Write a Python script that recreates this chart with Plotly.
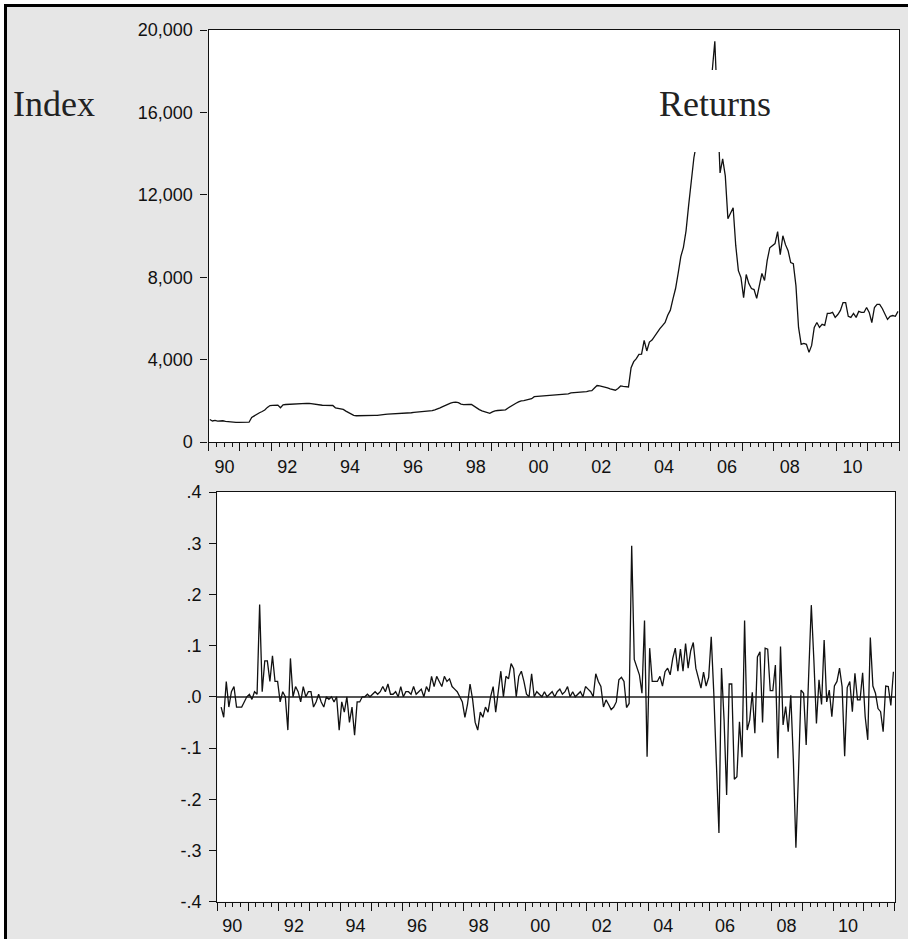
import pandas as pd
import plotly.graph_objects as go

W, H = 908, 939

# Monthly observations, 1990M1 .. 2011M12
months = pd.period_range("1990-01", "2011-12", freq="M")
x_month = [p.year + (p.month - 0.5) / 12 for p in months]

# Price index, one value per month
index_1990 = [1090, 1020, 1050, 1010, 1020, 1030, 1000, 980, 965, 955, 950, 950]
index_1991 = [950, 948, 952, 960, 1190, 1280, 1340, 1420, 1480, 1550, 1680, 1770]
index_1992 = [1780, 1790, 1790, 1660, 1800, 1820, 1830, 1840, 1845, 1850, 1860, 1870]
index_1993 = [1870, 1875, 1870, 1850, 1815, 1795, 1790, 1785, 1782, 1780, 1778, 1772]
index_1994 = [1660, 1640, 1590, 1580, 1500, 1420, 1340, 1290, 1275, 1272, 1275, 1278]
index_1995 = [1280, 1282, 1285, 1288, 1290, 1295, 1305, 1340, 1350, 1355, 1360, 1368]
index_1996 = [1372, 1380, 1388, 1395, 1410, 1420, 1440, 1450, 1465, 1480, 1485, 1482]
index_1997 = [1495, 1520, 1560, 1600, 1660, 1720, 1790, 1850, 1890, 1920, 1935, 1910]
index_1998 = [1840, 1815, 1830, 1825, 1820, 1730, 1640, 1570, 1510, 1470, 1420, 1390]
index_1999 = [1460, 1515, 1530, 1545, 1580, 1560, 1650, 1740, 1820, 1880, 1950, 2000]
index_2000 = [2010, 2030, 2060, 2100, 2200, 2210, 2195, 2215, 2230, 2230, 2240, 2250]
index_2001 = [2260, 2270, 2280, 2300, 2310, 2340, 2380, 2390, 2400, 2405, 2410, 2420]
index_2002 = [2450, 2480, 2490, 2620, 2740, 2720, 2700, 2680, 2630, 2580, 2540, 2515]
index_2003 = [2600, 2720, 2700, 2690, 2670, 3610, 3900, 4050, 4250, 4260, 4930, 4420]
index_2004 = [4850, 4950, 5150, 5300, 5500, 5650, 5800, 6150, 6400, 6950, 7450, 8200]
index_2005 = [9000, 9450, 10250, 11500, 12800, 13800, 14500, 15000, 15400, 16200, 16600, 17300]
index_2006 = [18000, 19450, 16250, 13060, 13740, 12920, 10840, 11130, 11370, 9530, 8320, 7980]
index_2007 = [7010, 8130, 7690, 7450, 7400, 6970, 7590, 8180, 7840, 8800, 9430, 9530]
index_2008 = [9630, 10210, 9090, 10010, 9580, 9290, 8710, 8660, 7590, 5560, 4740, 4790]
index_2009 = [4740, 4350, 4690, 5560, 5800, 5560, 5710, 5660, 6240, 6240, 6290, 6050]
index_2010 = [6190, 6390, 6770, 6770, 6100, 6050, 6240, 6050, 6340, 6290, 6290, 6530]
index_2011 = [6290, 5800, 6530, 6680, 6680, 6480, 6240, 5950, 6100, 6140, 6100, 6340]

index_values = (index_1990 + index_1991 + index_1992 + index_1993 + index_1994
                + index_1995 + index_1996 + index_1997 + index_1998 + index_1999
                + index_2000 + index_2001 + index_2002 + index_2003 + index_2004
                + index_2005 + index_2006 + index_2007 + index_2008 + index_2009
                + index_2010 + index_2011)

# Monthly log returns, starting 1990M2
ret_1990 = [-0.02, -0.04, 0.03, -0.02, 0.01, 0.02, -0.02, -0.02, -0.02, -0.01, 0.0]
ret_1991 = [0.005, -0.005, 0.01, 0.005, 0.18, 0.01, 0.07, 0.07, 0.03, 0.08, 0.03, 0.03]
ret_1992 = [-0.01, 0.01, 0.0, -0.065, 0.075, 0.0, 0.02, 0.01, -0.01, 0.02, 0.0, 0.01]
ret_1993 = [0.01, -0.02, -0.01, 0.005, -0.01, -0.02, 0.0, -0.005, 0.0, -0.01, 0.0, -0.065]
ret_1994 = [-0.01, -0.03, 0.0, -0.05, -0.02, -0.075, -0.01, -0.01, 0.0, 0.0, 0.005, 0.0]
ret_1995 = [0.005, 0.01, 0.005, 0.01, 0.02, 0.01, 0.025, 0.005, 0.005, 0.01, 0.0, 0.02]
ret_1996 = [0.0, 0.01, 0.01, 0.005, 0.02, 0.005, 0.01, 0.015, 0.0, 0.02, 0.01, 0.04]
ret_1997 = [0.02, 0.04, 0.03, 0.02, 0.04, 0.03, 0.035, 0.02, 0.015, 0.01, 0.0, -0.01]
ret_1998 = [-0.04, -0.015, 0.025, -0.005, -0.05, -0.065, -0.03, -0.04, -0.02, -0.03, 0.0, 0.02]
ret_1999 = [-0.03, 0.01, 0.05, 0.0, 0.04, 0.035, 0.065, 0.055, 0.0, 0.04, 0.05, 0.03]
ret_2000 = [0.005, 0.0, 0.045, 0.0, 0.01, 0.005, 0.0, 0.01, 0.0, 0.005, 0.01, 0.0]
ret_2001 = [0.01, 0.015, 0.005, 0.01, 0.02, 0.0, 0.01, 0.0, 0.005, 0.01, 0.0, 0.02]
ret_2002 = [0.015, 0.01, 0.0, 0.045, 0.03, 0.02, -0.02, -0.006, -0.015, -0.025, -0.02, -0.01]
ret_2003 = [0.033, 0.038, 0.03, -0.021, -0.013, 0.295, 0.073, 0.059, 0.043, 0.007, 0.149, -0.117]
ret_2004 = [0.095, 0.03, 0.03, 0.03, 0.04, 0.021, 0.049, 0.056, 0.043, 0.075, 0.095, 0.05]
ret_2005 = [0.093, 0.05, 0.104, 0.056, 0.09, 0.106, 0.056, 0.038, 0.017, 0.048, 0.021, 0.038]
ret_2006 = [0.117, 0.007, -0.137, -0.266, 0.056, -0.045, -0.192, 0.025, 0.025, -0.161, -0.156, -0.049]
ret_2007 = [-0.118, 0.149, -0.065, -0.045, 0.009, -0.071, 0.078, 0.088, -0.05, 0.095, 0.093, 0.012]
ret_2008 = [0.012, 0.062, -0.12, 0.098, -0.055, -0.019, -0.068, 0.003, -0.123, -0.295, -0.15, 0.013]
ret_2009 = [0.007, -0.094, 0.046, 0.179, 0.072, -0.052, 0.033, -0.015, 0.111, -0.01, 0.013, -0.039]
ret_2010 = [0.021, 0.03, 0.056, 0.02, -0.116, 0.018, 0.03, -0.029, 0.046, -0.006, -0.006, 0.047]
ret_2011 = [-0.039, -0.084, 0.116, 0.021, 0.007, -0.023, -0.029, -0.068, 0.021, 0.02, -0.017, 0.049]

returns_values = (ret_1990 + ret_1991 + ret_1992 + ret_1993 + ret_1994 + ret_1995
                  + ret_1996 + ret_1997 + ret_1998 + ret_1999 + ret_2000 + ret_2001
                  + ret_2002 + ret_2003 + ret_2004 + ret_2005 + ret_2006 + ret_2007
                  + ret_2008 + ret_2009 + ret_2010 + ret_2011)

# Axis ticks and labels
year_ticks = list(range(1990, 2013))
year_labels = [f"{y % 100:02d}" if (y % 2 == 0 and y <= 2010) else "" for y in year_ticks]
quarter_ticks = [y + q / 4 for y in range(1990, 2012) for q in (1, 2, 3)]
index_ticks = [0, 4000, 8000, 12000, 16000, 20000]
index_labels = ["0", "4,000", "8,000", "12,000", "16,000", "20,000"]
ret_ticks = [-0.4, -0.3, -0.2, -0.1, 0.0, 0.1, 0.2, 0.3, 0.4]
ret_labels = ["-.4", "-.3", "-.2", "-.1", ".0", ".1", ".2", ".3", ".4"]


def px_x(p):
    return p / W


def px_y(p):
    return 1 - p / H


tick_font = dict(family="Liberation Sans, Arial, sans-serif", size=18, color="#111")
title_font = dict(family="Liberation Serif, Times New Roman, serif", size=36, color="#222")
line_style = dict(color="#111", width=1.3)

fig = go.Figure()
fig.add_trace(go.Scatter(x=x_month, y=index_values, mode="lines", line=line_style,
                         xaxis="x", yaxis="y", showlegend=False, hoverinfo="skip"))
fig.add_trace(go.Scatter(x=x_month[1:], y=returns_values, mode="lines", line=line_style,
                         xaxis="x2", yaxis="y2", showlegend=False, hoverinfo="skip"))


def x_axis(domain, anchor, shift):
    return dict(
        domain=domain, anchor=anchor, range=[1990, 2012], automargin=False,
        tickmode="array", tickvals=year_ticks, ticktext=year_labels,
        ticks="outside", ticklen=8, tickwidth=1, tickcolor="#111",
        ticklabelshift=shift, ticklabelstandoff=0,
        minor=dict(tickmode="array", tickvals=quarter_ticks, ticks="outside",
                   ticklen=4, tickwidth=1, tickcolor="#111", showgrid=False),
        showline=True, mirror=True, linecolor="#111", linewidth=1.2,
        showgrid=False, zeroline=False, tickfont=tick_font, fixedrange=True,
    )


def y_axis(domain, anchor, rng, tv, tt, zero):
    d = dict(
        domain=domain, anchor=anchor, range=rng, automargin=False,
        tickmode="array", tickvals=tv, ticktext=tt,
        ticks="outside", ticklen=7, tickwidth=1, tickcolor="#111",
        ticklabelstandoff=4,
        showline=True, mirror=True, linecolor="#111", linewidth=1.2,
        showgrid=False, zeroline=zero, tickfont=tick_font, fixedrange=True,
    )
    if zero:
        d.update(zerolinecolor="#555", zerolinewidth=1.5)
    return d


fig.update_layout(
    width=W, height=H, autosize=False,
    margin=dict(l=0, r=0, t=0, b=0, pad=0, autoexpand=False),
    paper_bgcolor="#e6e6e6", plot_bgcolor="white",
    xaxis=x_axis([px_x(208.5), px_x(899.3)], "y", 16),
    yaxis=y_axis([px_y(442), px_y(30)], "x", [0, 20000], index_ticks, index_labels, False),
    xaxis2=x_axis([px_x(217.3), px_x(894.7)], "y2", 15),
    yaxis2=y_axis([px_y(901.6), px_y(492)], "x2", [-0.4, 0.4], ret_ticks, ret_labels, True),
    shapes=[
        # white outer margin and black frame
        dict(type="rect", xref="paper", yref="paper", x0=0, x1=px_x(4), y0=0, y1=1,
             fillcolor="white", line=dict(width=0), layer="below"),
        dict(type="rect", xref="paper", yref="paper", x0=0, x1=1, y0=px_y(4), y1=1,
             fillcolor="white", line=dict(width=0), layer="below"),
        dict(type="rect", xref="paper", yref="paper", x0=px_x(4), x1=px_x(7), y0=0, y1=px_y(4),
             fillcolor="black", line=dict(width=0), layer="below"),
        dict(type="rect", xref="paper", yref="paper", x0=px_x(4), x1=1, y0=px_y(7), y1=px_y(4),
             fillcolor="black", line=dict(width=0), layer="below"),
        # white box behind the "Returns" label
        dict(type="rect", xref="paper", yref="paper", x0=px_x(652), x1=px_x(778),
             y0=px_y(152), y1=px_y(70), fillcolor="white", line=dict(width=0), layer="above"),
    ],
    annotations=[
        dict(text="Index", xref="paper", yref="paper", x=px_x(11), y=px_y(104),
             xanchor="left", yanchor="middle", showarrow=False, font=title_font),
        dict(text="Returns", xref="paper", yref="paper", x=px_x(715), y=px_y(104),
             xanchor="center", yanchor="middle", showarrow=False, font=title_font),
    ],
)

fig.write_html("out.html")
